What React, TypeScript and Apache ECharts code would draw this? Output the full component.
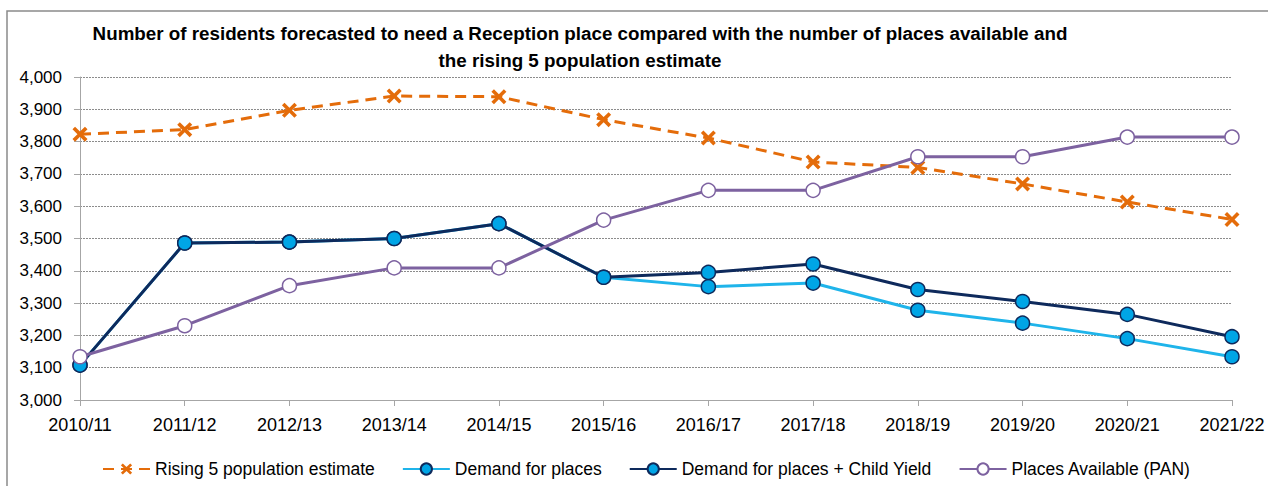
import React, { useEffect, useRef } from "react";
import * as echarts from "echarts";

const categories = ["2010/11","2011/12","2012/13","2013/14","2014/15","2015/16","2016/17","2017/18","2018/19","2019/20","2020/21","2021/22"];
const rising5 = [3823, 3837, 3897, 3941, 3939, 3868, 3811, 3737, 3720, 3669, 3613, 3559];
const demand = [3108, 3486, 3489, 3500, 3546, 3380, 3351, 3362, 3278, 3238, 3190, 3134];
const demandChildYield = [3108, 3486, 3489, 3500, 3546, 3380, 3395, 3421, 3342, 3305, 3265, 3196];
const placesAvailable = [3134, 3230, 3354, 3409, 3409, 3557, 3649, 3649, 3753, 3753, 3814, 3814];

const FONT = "'Liberation Sans', Arial, sans-serif";
const X_SYMBOL = "path://M0,1.7L1.7,0L5,3.3L8.3,0L10,1.7L6.7,5L10,8.3L8.3,10L5,6.7L1.7,10L0,8.3L3.3,5Z";

export default function App() {
  const ref = useRef<HTMLDivElement>(null);
  useEffect(() => {
    document.body.style.margin = "0";
    const chart = echarts.init(ref.current!, null, { renderer: "svg" });
    chart.setOption({
      animation: false,
      backgroundColor: "#ffffff",
      textStyle: { fontFamily: FONT },
      title: {
        text: "Number of residents forecasted to need a Reception place compared with the number of places available and\nthe rising 5 population estimate",
        left: 575,
        top: 15,
        textAlign: "center",
        textStyle: { fontFamily: FONT, fontSize: 18.8, fontWeight: "bold", color: "#000", lineHeight: 27 },
      },
      graphic: [
        { type: "rect", shape: { x: 7, y: 11, width: 1275, height: 490 }, style: { fill: "none", stroke: "#8a8a8a", lineWidth: 1.5 }, silent: true },
      ],
      grid: { left: 80, right: 36, top: 77, bottom: 86 },
      legend: {
        left: 97,
        top: 455,
        itemGap: 27,
        itemWidth: 47,
        itemHeight: 14,
        textStyle: { fontFamily: FONT, fontSize: 17.5, color: "#000" },
        data: ["Rising 5 population estimate", "Demand for places", "Demand for places + Child Yield", "Places Available (PAN)"],
      },
      xAxis: {
        type: "category",
        data: categories,
        boundaryGap: false,
        axisLine: { lineStyle: { color: "#a6a6a6", width: 1 } },
        axisTick: { show: true, length: 6, lineStyle: { color: "#a6a6a6" } },
        axisLabel: { color: "#000", fontSize: 18, fontFamily: FONT, margin: 16 },
      },
      yAxis: {
        type: "value",
        min: 3000,
        max: 4000,
        interval: 100,
        axisLine: { show: true, lineStyle: { color: "#a6a6a6", width: 1 } },
        axisTick: { show: true, length: 6, lineStyle: { color: "#a6a6a6" } },
        axisLabel: {
          color: "#000",
          fontSize: 17,
          fontFamily: FONT,
          margin: 18,
          formatter: (v: number) => v.toLocaleString("en-US"),
        },
        splitLine: { show: true, lineStyle: { color: "#8c8c8c", type: [2, 1], width: 1 } },
      },
      series: [
        {
          name: "Rising 5 population estimate",
          type: "line",
          data: rising5,
          symbol: X_SYMBOL,
          symbolSize: 15,
          lineStyle: { color: "#E46C0A", width: 3, type: [11, 7] },
          itemStyle: { color: "#E46C0A" },
          z: 2,
        },
        {
          name: "Demand for places",
          type: "line",
          data: demand,
          symbol: "circle",
          symbolSize: 14,
          lineStyle: { color: "#1fb4ea", width: 3 },
          itemStyle: { color: "#00a5e6", borderColor: "#0e2a5c", borderWidth: 1.5 },
          z: 3,
        },
        {
          name: "Demand for places + Child Yield",
          type: "line",
          data: demandChildYield,
          symbol: "circle",
          symbolSize: 14,
          lineStyle: { color: "#0e2a5c", width: 3 },
          itemStyle: { color: "#00a5e6", borderColor: "#0e2a5c", borderWidth: 1.5 },
          z: 4,
        },
        {
          name: "Places Available (PAN)",
          type: "line",
          data: placesAvailable,
          symbol: "circle",
          symbolSize: 14,
          lineStyle: { color: "#7d62a0", width: 3 },
          itemStyle: { color: "#ffffff", borderColor: "#7d62a0", borderWidth: 1.5 },
          z: 5,
        },
      ],
    });
    return () => chart.dispose();
  }, []);
  return <div ref={ref} style={{ width: 1268, height: 486 }} />;
}
